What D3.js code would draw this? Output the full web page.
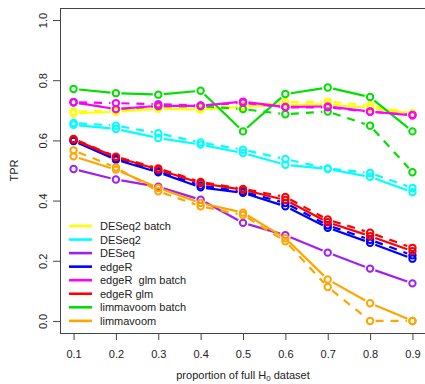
<!DOCTYPE html>
<html>
<head>
<meta charset="utf-8">
<script src="https://cdn.jsdelivr.net/npm/d3@7"></script>
<style>
  html, body { margin: 0; padding: 0; background: #fff; }
  svg { display: block; font-family: "Liberation Sans", Arial, sans-serif; }
</style>
</head>
<body>
<svg id="chart" width="425" height="384"></svg>
<script>
// proportion of the full H0 dataset used
const proportions = [0.1, 0.2, 0.3, 0.4, 0.5, 0.6, 0.7, 0.8, 0.9];
const yTicks = [0.0, 0.2, 0.4, 0.6, 0.8, 1.0];

// TPR per method: solid = first setting, dashed = second setting
const deseq2BatchSolid  = [0.690, 0.695, 0.705, 0.703, 0.712, 0.718, 0.720, 0.708, 0.688];
const deseq2BatchDashed = [0.695, 0.700, 0.710, 0.708, 0.715, 0.727, 0.729, 0.716, 0.690];
const deseq2Solid       = [0.652, 0.638, 0.608, 0.586, 0.558, 0.519, 0.505, 0.479, 0.428];
const deseq2Dashed      = [0.658, 0.649, 0.624, 0.593, 0.569, 0.538, 0.507, 0.492, 0.442];
const deseqSolid        = [0.505, 0.470, 0.446, 0.403, 0.326, 0.285, 0.227, 0.174, 0.125];
const edgeRSolid        = [0.598, 0.536, 0.494, 0.444, 0.426, 0.381, 0.310, 0.260, 0.207];
const edgeRDashed       = [0.600, 0.540, 0.498, 0.450, 0.430, 0.392, 0.318, 0.270, 0.218];
const edgeRGlmSolid     = [0.603, 0.544, 0.503, 0.458, 0.436, 0.402, 0.328, 0.282, 0.232];
const edgeRGlmDashed    = [0.605, 0.546, 0.507, 0.462, 0.439, 0.412, 0.337, 0.293, 0.243];
const edgeRGlmBatchSolid  = [0.727, 0.704, 0.715, 0.715, 0.729, 0.711, 0.713, 0.696, 0.683];
const edgeRGlmBatchDashed = [0.727, 0.724, 0.720, 0.716, 0.725, 0.710, 0.710, 0.695, 0.685];
const limmaBatchSolid   = [0.771, 0.757, 0.752, 0.765, 0.630, 0.754, 0.776, 0.744, 0.630];
const limmaBatchDashed  = [0.727, 0.704, 0.713, 0.713, 0.704, 0.687, 0.696, 0.649, 0.494];
const limmaSolid        = [0.547, 0.503, 0.442, 0.392, 0.360, 0.275, 0.138, 0.059, 0.000];
const limmaDashed       = [0.567, 0.510, 0.431, 0.381, 0.352, 0.265, 0.113, 0.000, 0.000];

const legendLabels = ["DESeq2 batch", "DESeq2", "DESeq", "edgeR", "edgeR  glm batch", "edgeR glm", "limmavoom batch", "limmavoom"];
const legendColors = ["#ffff00", "#00ffff", "#a020f0", "#0000ff", "#ff00ff", "#ff0000", "#00e000", "#ffa500"];

const series = [
  { values: deseq2BatchSolid,  color: legendColors[0], dashed: false },
  { values: deseq2BatchDashed, color: legendColors[0], dashed: true },
  { values: deseq2Solid,       color: legendColors[1], dashed: false },
  { values: deseq2Dashed,      color: legendColors[1], dashed: true },
  { values: deseqSolid,        color: legendColors[2], dashed: false },
  { values: edgeRSolid,        color: legendColors[3], dashed: false },
  { values: edgeRDashed,       color: legendColors[3], dashed: true },
  { values: edgeRGlmSolid,     color: legendColors[5], dashed: false },
  { values: edgeRGlmDashed,    color: legendColors[5], dashed: true },
  { values: limmaBatchSolid,   color: legendColors[6], dashed: false },
  { values: limmaBatchDashed,  color: legendColors[6], dashed: true },
  { values: limmaSolid,        color: legendColors[7], dashed: false },
  { values: limmaDashed,       color: legendColors[7], dashed: true },
  { values: edgeRGlmBatchSolid,  color: legendColors[4], dashed: false },
  { values: edgeRGlmBatchDashed, color: legendColors[4], dashed: true }
];

const svg = d3.select("#chart");
const plot = { left: 60, right: 426, top: 8, bottom: 333 };

const x = d3.scaleLinear().domain([0.068, 0.932]).range([plot.left, plot.right]);
const y = d3.scaleLinear().domain([-0.04, 1.04]).range([plot.bottom, plot.top]);

// frame
svg.append("rect")
  .attr("x", plot.left + 0.5).attr("y", plot.top + 0.5)
  .attr("width", plot.right - plot.left).attr("height", plot.bottom - plot.top)
  .attr("fill", "none").attr("stroke", "#444").attr("stroke-width", 1);

// x axis
const xAxis = svg.append("g")
  .attr("transform", `translate(0,${plot.bottom + 1})`)
  .call(d3.axisBottom(x).tickValues(proportions).tickSize(6).tickSizeOuter(0).tickPadding(10)
    .tickFormat(d3.format(".1f")));
xAxis.select(".domain").remove();
xAxis.selectAll("line").attr("stroke", "#444");
xAxis.selectAll("text").attr("font-size", 11).attr("fill", "#222")
  .attr("font-family", "Liberation Sans, Arial, sans-serif");

// y axis with rotated labels
const yAxis = svg.append("g")
  .attr("transform", `translate(${plot.left},0)`)
  .call(d3.axisLeft(y).tickValues(yTicks).tickSize(7).tickSizeOuter(0).tickFormat(d3.format(".1f")));
yAxis.select(".domain").remove();
yAxis.selectAll("line").attr("stroke", "#444");
yAxis.selectAll("text")
  .attr("font-size", 11).attr("fill", "#222")
  .attr("font-family", "Liberation Sans, Arial, sans-serif")
  .attr("x", null).attr("dy", null)
  .attr("text-anchor", "middle")
  .attr("transform", "translate(-17,0) rotate(-90)")
  .attr("y", 4);

// axis titles
svg.append("text")
  .attr("transform", `translate(18,${(plot.top + plot.bottom) / 2}) rotate(-90)`)
  .attr("text-anchor", "middle").attr("font-size", 11).attr("fill", "#222")
  .text("TPR");

const xTitle = svg.append("text")
  .attr("x", 243).attr("y", 378.5)
  .attr("text-anchor", "middle").attr("font-size", 11).attr("fill", "#222");
xTitle.append("tspan").text("proportion of full H");
xTitle.append("tspan").attr("font-size", 8).attr("dy", 2.5).text("0");
xTitle.append("tspan").attr("dy", -2.5).text(" dataset");

// series: segments stop short of each point marker
const gap = 5.5;
const lines = svg.append("g");
series.forEach(s => {
  const pts = proportions.map((p, i) => [x(p), y(s.values[i])]);
  const g = lines.append("g");
  d3.pairs(pts).forEach(([a, b]) => {
    const dx = b[0] - a[0], dy = b[1] - a[1];
    const len = Math.hypot(dx, dy);
    if (len <= 2 * gap) return;
    const ux = dx / len, uy = dy / len;
    g.append("line")
      .attr("x1", a[0] + ux * gap).attr("y1", a[1] + uy * gap)
      .attr("x2", b[0] - ux * gap).attr("y2", b[1] - uy * gap)
      .attr("stroke", s.color).attr("stroke-width", 2.2)
      .attr("stroke-dasharray", s.dashed ? "8,7" : null);
  });
  g.selectAll("circle").data(pts).join("circle")
    .attr("cx", d => d[0]).attr("cy", d => d[1]).attr("r", 3.2)
    .attr("fill", "none").attr("stroke", s.color).attr("stroke-width", 2);
});

// legend
const legend = svg.append("g");
legendLabels.forEach((label, i) => {
  const ly = 226 + i * 13.55;
  legend.append("line")
    .attr("x1", 69).attr("x2", 92).attr("y1", ly).attr("y2", ly)
    .attr("stroke", legendColors[i]).attr("stroke-width", 2.6);
  legend.append("text")
    .attr("x", 100).attr("y", ly + 4)
    .attr("font-size", 11).attr("fill", "#222")
    .attr("xml:space", "preserve").style("white-space", "pre")
    .text(label);
});
</script>
</body>
</html>
